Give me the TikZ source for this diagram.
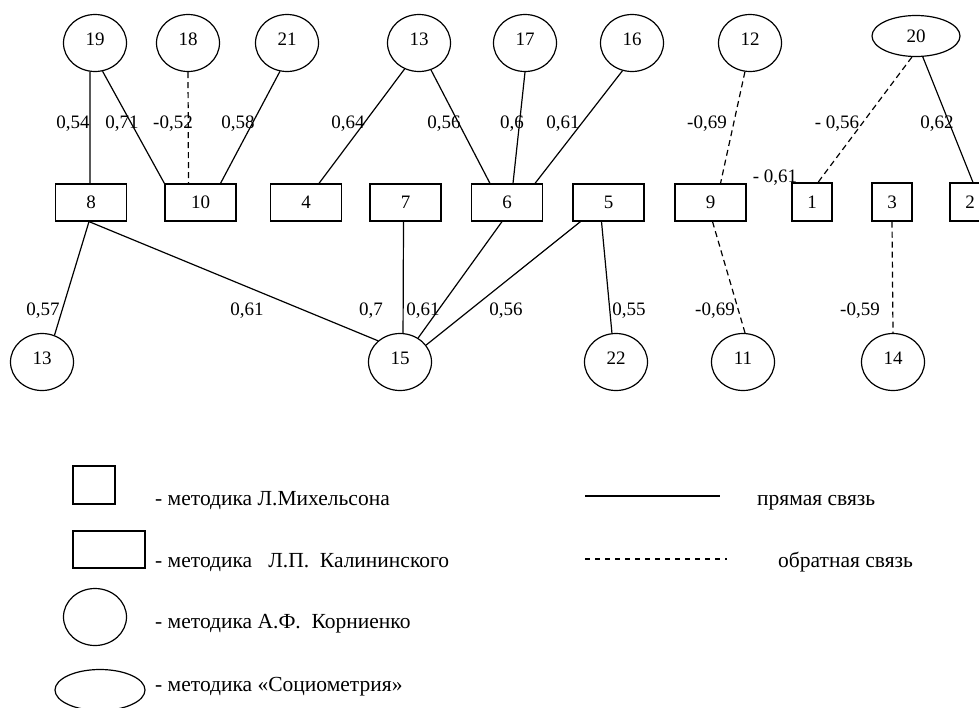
\documentclass[tikz,border=0pt]{standalone}
\usepackage{fontspec}
\setmainfont{Liberation Serif}
\usetikzlibrary{shapes.geometric}
\begin{document}
\begin{tikzpicture}[x=1pt,y=-1pt,
  every node/.style={font=\fontsize{19}{22}\selectfont},
  circ/.style={draw, ellipse, minimum width=63pt, minimum height=57pt, inner sep=0pt, text depth=8pt, line width=1.2pt},
  ell/.style={draw, ellipse, minimum width=88pt, minimum height=41pt, inner sep=0pt, line width=1.2pt},
  wbox/.style={draw, rectangle, minimum width=71pt, minimum height=37pt, inner sep=0pt, line width=1.2pt},
  sbox/.style={draw, rectangle, minimum width=40pt, minimum height=38pt, inner sep=0pt, line width=1.2pt},
  lbl/.style={anchor=base, inner sep=0pt},
  link/.style={line width=1.2pt},
  neg/.style={line width=1.2pt, dash pattern=on 6pt off 4pt},
  legtext/.style={anchor=base west, inner sep=0pt, font=\fontsize{21.5}{25}\selectfont}]
\useasboundingbox (0,0) rectangle (979,707);
% top row
\node[circ] (t19) at (95,43) {19};
\node[circ] (t18) at (188,43) {18};
\node[circ] (t21) at (287,43) {21};
\node[circ] (t13) at (419,43) {13};
\node[circ] (t17) at (525,43) {17};
\node[circ] (t16) at (632,43) {16};
\node[circ] (t12) at (750,43) {12};
\node[ell] (t20) at (916,36) {20};
% middle row
\node[wbox] (b8) at (91,202.5) {8};
\node[wbox] (b10) at (200.5,202.5) {10};
\node[wbox] (b4) at (306,202.5) {4};
\node[wbox] (b7) at (405.5,202.5) {7};
\node[wbox] (b6) at (507,202.5) {6};
\node[wbox] (b5) at (608.5,202.5) {5};
\node[wbox] (b9) at (710.5,202.5) {9};
\node[sbox] (b1) at (812,202) {1};
\node[sbox] (b3) at (892,202) {3};
\node[sbox] (b2) at (970,202) {2};
% bottom row
\node[circ] (c13) at (42,362) {13};
\node[circ] (c15) at (400,362) {15};
\node[circ] (c22) at (616,362) {22};
\node[circ] (c11) at (743,362) {11};
\node[circ] (c14) at (893,362) {14};
% upper connectors
\draw[link] (t19.-100) -- ([xshift=-1pt]b8.north);
\draw[link] (t19.-75) -- (b10.north west);
\draw[neg] (t18.south) -- ([xshift=-12pt]b10.north);
\draw[link] (t21.-104) -- ([xshift=20pt]b10.north);
\draw[link] (t13.-119) -- ([xshift=13pt]b4.north);
\draw[link] (t13.-66) -- ([xshift=-17pt]b6.north);
\draw[link] (t17.south) -- ([xshift=6pt]b6.north);
\draw[link] (t16.-109) -- ([xshift=28pt]b6.north);
\draw[neg] (t12.-100) -- ([xshift=10pt]b9.north);
\draw[neg] (t20.-101) -- ([xshift=6pt]b1.north);
\draw[link] (t20.-72) -- ([xshift=3pt]b2.north);
% lower connectors
\draw[link] ([xshift=-2pt]b8.south) -- (c13.65);
\draw[link] ([xshift=-2pt]b8.south) -- (c15.136);
\draw[link] ([xshift=-2pt]b7.south) -- (c15.84);
\draw[link] ([xshift=-5pt]b6.south) -- (c15.53);
\draw[link] ([xshift=-28pt]b5.south) -- (c15.33);
\draw[link] ([xshift=-7pt]b5.south) -- (c22.98);
\draw[neg] ([xshift=2pt]b9.south) -- (c11.86);
\draw[neg] (b3.south) -- (c14.north);
% labels upper
\node[lbl] (l1) at (73,128) {0,54};
\node[lbl] (l2) at (122,128) {0,71};
\node[lbl] (l3) at (173,128) {-0,52};
\node[lbl] (l4) at (238,128) {0,58};
\node[lbl] (l5) at (348,128) {0,64};
\node[lbl] (l6) at (444,128) {0,56};
\node[lbl] (l7) at (512,128) {0,6};
\node[lbl] (l8) at (563,128) {0,61};
\node[lbl] (l9) at (707,128) {-0,69};
\node[lbl] (l10) at (837,128) {- 0,56};
\node[lbl] (l11) at (937,128) {0,62};
\node[lbl] (l12) at (775,182) {- 0,61};
% labels lower
\node[lbl] (m1) at (43,315) {0,57};
\node[lbl] (m2) at (247,315) {0,61};
\node[lbl] (m3) at (371,315) {0,7};
\node[lbl] (m4) at (423,315) {0,61};
\node[lbl] (m5) at (506,315) {0,56};
\node[lbl] (m6) at (629,315) {0,55};
\node[lbl] (m7) at (715,315) {-0,69};
\node[lbl] (m8) at (860,315) {-0,59};
% legend
\node[sbox, minimum width=42pt, minimum height=38pt] (lg1) at (94,485) {};
\node[wbox, minimum width=72pt, minimum height=37pt] (lg2) at (109,549.5) {};
\node[circ] (lg3) at (95,617) {};
\node[ell, minimum width=90pt] (lg4) at (100,690) {};
\node[legtext] (lt1) at (155,505) {- методика Л.Михельсона};
\node[legtext] (lt2) at (155,567) {- методика \ \ Л.П. \ Калининского};
\node[legtext] (lt3) at (155,628) {- методика А.Ф. \ Корниенко};
\node[legtext] (lt4) at (155,691) {- методика «Социометрия»};
\coordinate (s1) at (585,496);
\coordinate (s2) at (720,496);
\draw[line width=1.6pt] (s1) -- (s2);
\node[legtext] (lt5) at (757,505) {прямая связь};
\coordinate (d1) at (585,559);
\coordinate (d2) at (727,559);
\draw[line width=1.2pt, dash pattern=on 5pt off 5pt] (d1) -- (d2);
\node[legtext] (lt6) at (778,567) {обратная связь};
\end{tikzpicture}
\end{document}
